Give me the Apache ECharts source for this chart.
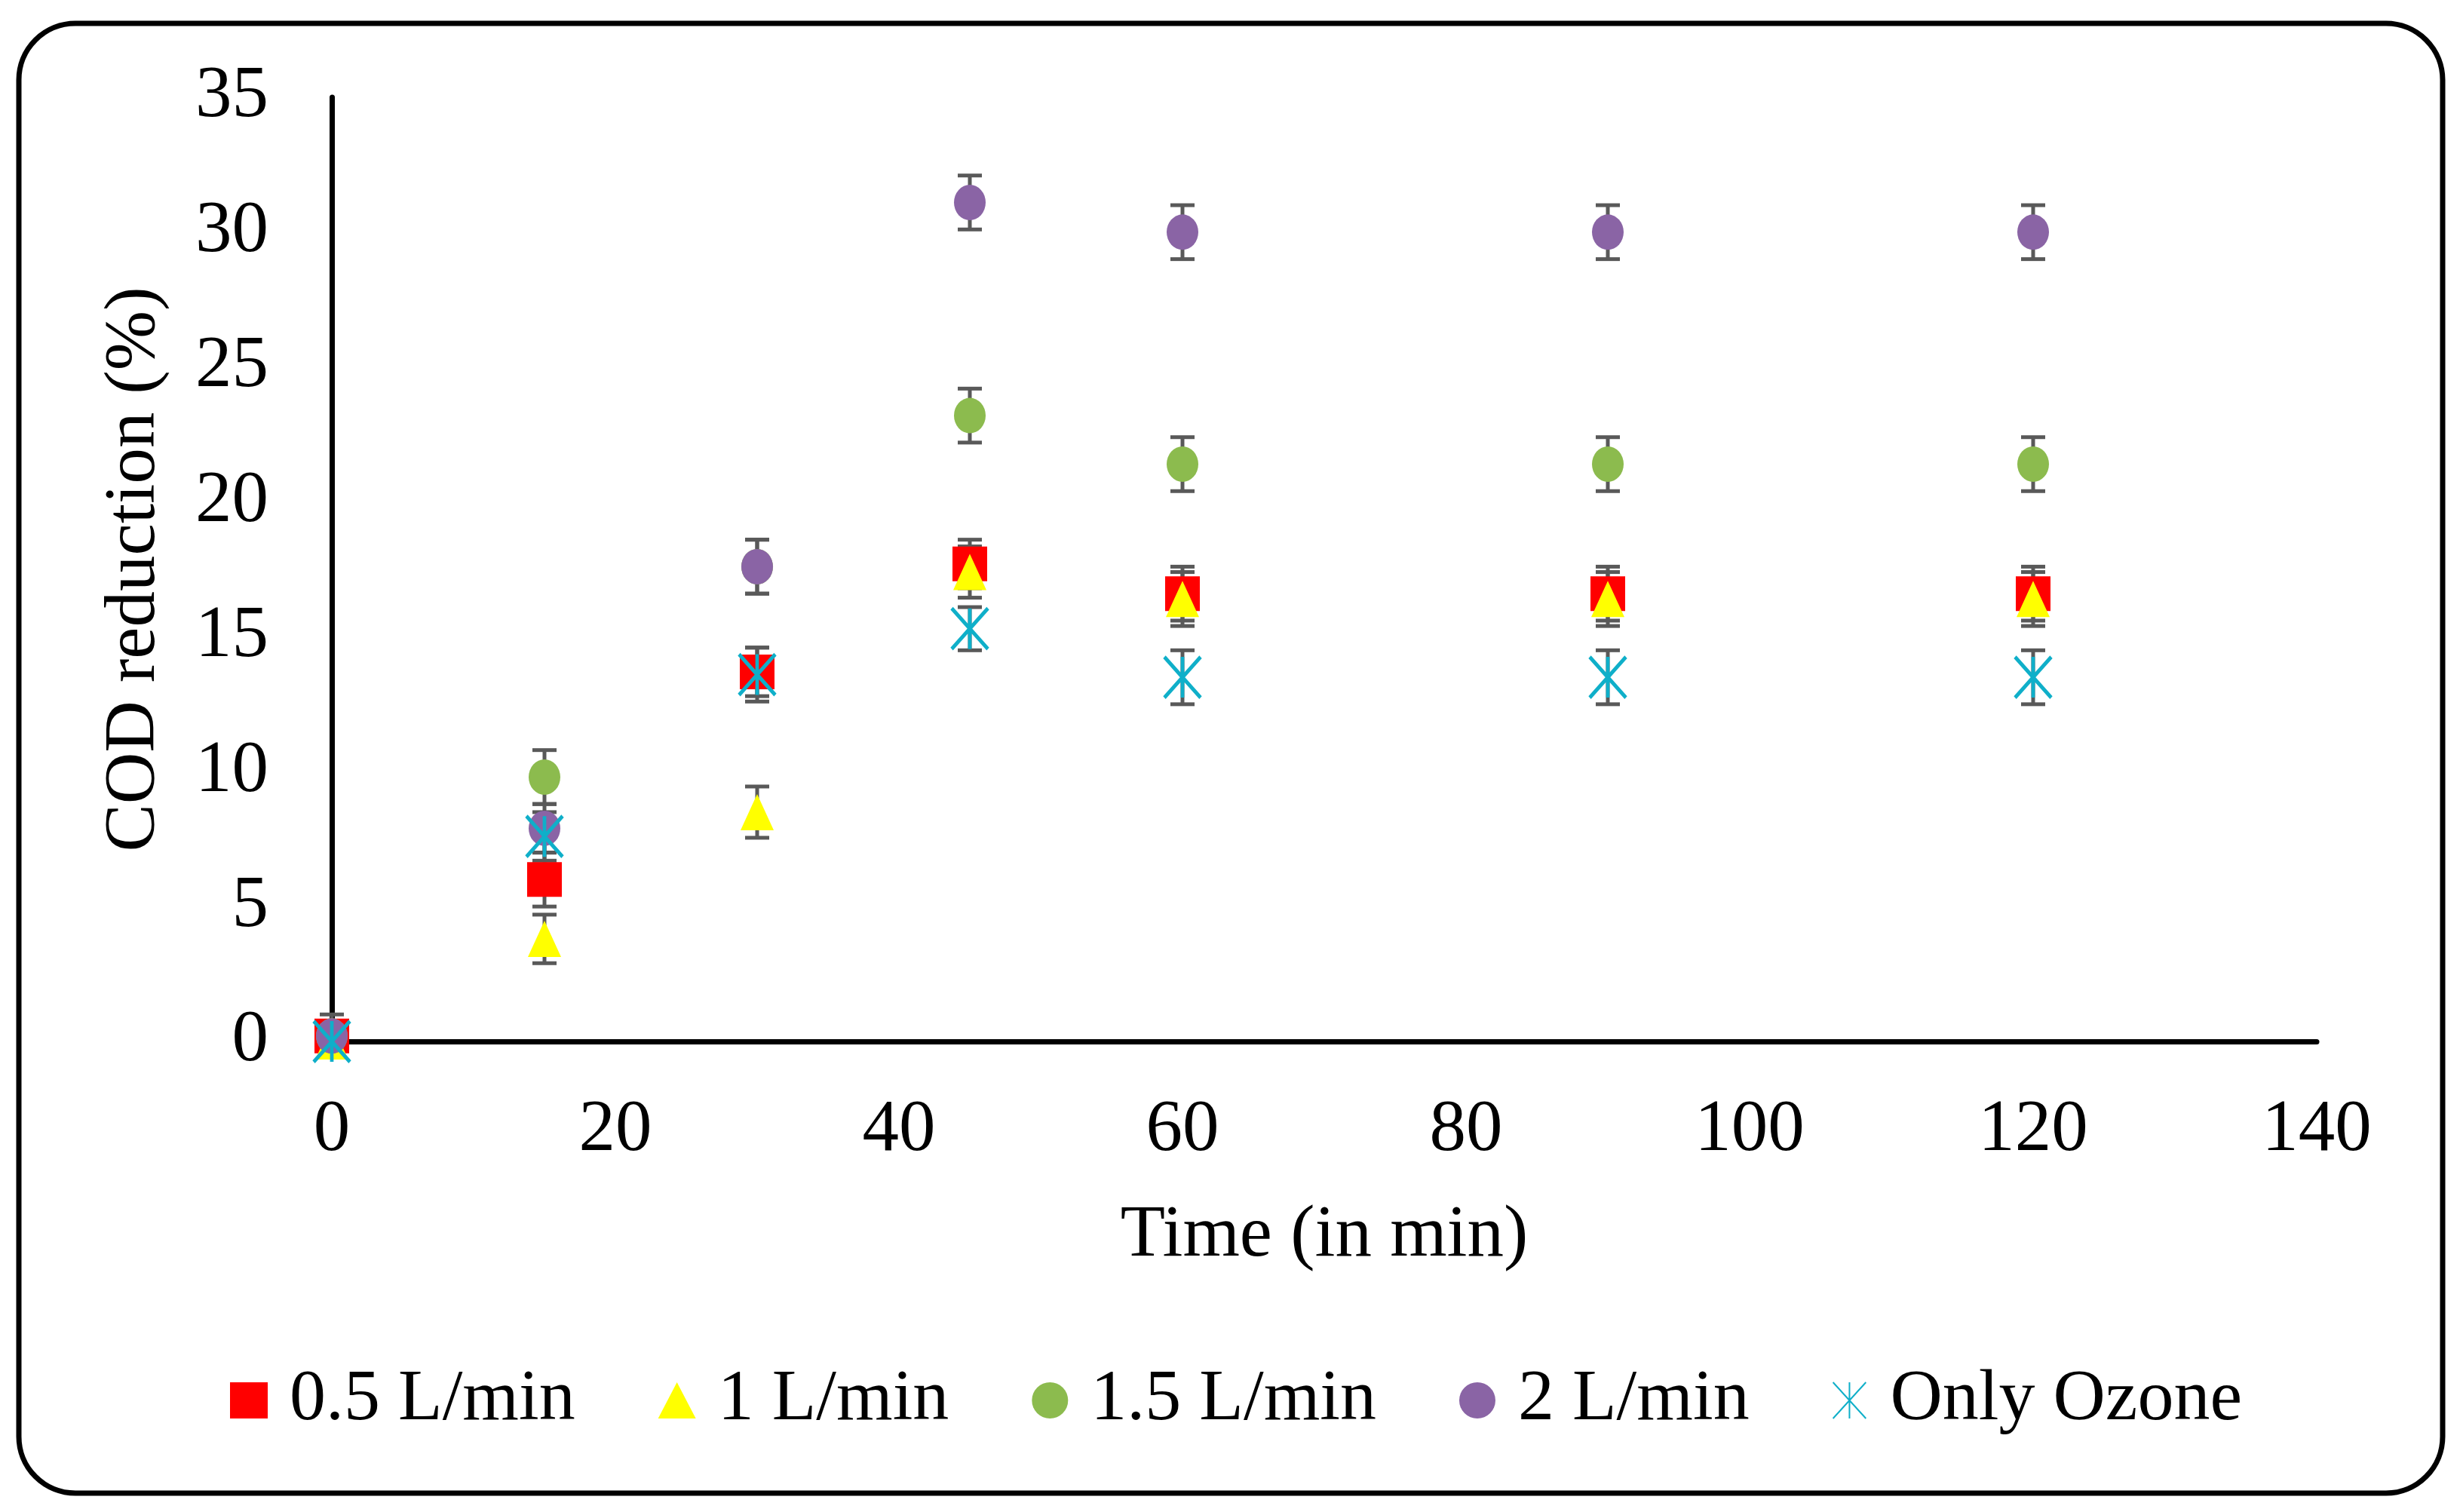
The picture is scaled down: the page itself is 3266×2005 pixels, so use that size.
<!DOCTYPE html>
<html>
<head>
<meta charset="utf-8">
<script src="https://cdn.jsdelivr.net/npm/echarts@6/dist/echarts.min.js"></script>
<style>
html, body { margin: 0; padding: 0; background: #fff; }
#grafico { width: 3266px; height: 2005px; }
</style>
</head>
<body>
<div id="grafico"></div>
<script>
// Datos
const tiempos = [0, 15, 30, 45, 60, 90, 120];
const nombres = ['0.5 L/min', '1 L/min', '1.5 L/min', '2 L/min', 'Only Ozone'];

const cod05 = [0.2, 6.0, 13.7, 17.7, 16.6, 16.6, 16.6];
const cod1 = [0.0, 3.8, 8.5, 17.4, 16.4, 16.4, 16.4];
const cod15 = [0.2, 9.8, 17.6, 23.2, 21.4, 21.4, 21.4];
const cod2 = [0.2, 7.9, 17.6, 31.1, 30.0, 30.0, 30.0];
const codOzono = [0.0, 7.6, 13.6, 15.3, 13.5, 13.5, 13.5];

const err05 = [0.8, 1.0, 0.9, 0.9, 1.0, 1.0, 1.0];
const err1 = [0.5, 0.9, 0.95, 0.95, 1.0, 1.0, 1.0];
const err15 = [0.5, 1.0, 1.0, 1.0, 1.0, 1.0, 1.0];
const err2 = [0.5, 0.9, 1.0, 1.0, 1.0, 1.0, 1.0];
const errOzono = [0.5, 0.9, 1.0, 0.8, 1.0, 1.0, 1.0];

const ticksX = [0, 20, 40, 60, 80, 100, 120, 140];
const ticksY = [0, 5, 10, 15, 20, 25, 30, 35];

const fuente = 'Liberation Serif';
const valores = [cod05, cod1, cod15, cod2, codOzono];
const errores = [err05, err1, err15, err2, errOzono];
const colores = ['#FF0000', '#FFFF00', '#8CBB4E', '#8A64A5', '#0FAFC9'];
const simbolos = ['rect', 'triangle', 'circle', 'circle', 'path://M0,0L10,11M10,0L0,11M5,0L5,11'];
const tamanos = [[46, 46], [44, 48], [42, 47], [42, 47], [48, 54]];

// barras de error: [x, abajo, arriba]
let barras = [];
valores.forEach((serie, s) => {
    serie.forEach((v, i) => {
        barras.push([tiempos[i], v - errores[s][i], v + errores[s][i]]);
    });
});

function dibujarBarra(params, api) {
    const x = api.value(0);
    const arriba = api.coord([x, api.value(2)]);
    const abajo = api.coord([x, api.value(1)]);
    const media = 16;
    const estilo = { stroke: '#595959', lineWidth: 5 };
    return {
        type: 'group',
        children: [
            { type: 'line', shape: { x1: arriba[0], y1: arriba[1], x2: abajo[0], y2: abajo[1] }, style: estilo },
            { type: 'line', shape: { x1: arriba[0] - media, y1: arriba[1], x2: arriba[0] + media, y2: arriba[1] }, style: estilo },
            { type: 'line', shape: { x1: abajo[0] - media, y1: abajo[1], x2: abajo[0] + media, y2: abajo[1] }, style: estilo }
        ]
    };
}

let series = [{
    type: 'custom',
    name: 'error',
    renderItem: dibujarBarra,
    data: barras,
    encode: { x: 0, y: [1, 2] },
    z: 1,
    silent: true
}];

nombres.forEach((nombre, s) => {
    series.push({
        type: 'scatter',
        name: nombre,
        data: tiempos.map((t, i) => [t, valores[s][i]]),
        symbol: simbolos[s],
        symbolSize: tamanos[s],
        itemStyle: s === 4
            ? { color: colores[s], borderColor: colores[s], borderWidth: 5, opacity: 1 }
            : { color: colores[s], opacity: 1 },
        z: 2 + s
    });
});

let grafico = echarts.init(document.getElementById('grafico'));
grafico.setOption({
    animation: false,
    backgroundColor: '#fff',
    textStyle: { fontFamily: fuente },
    graphic: [{
        type: 'rect',
        shape: { x: 25, y: 31, width: 3214, height: 1949, r: 75 },
        style: { fill: 'none', stroke: '#000', lineWidth: 7 },
        z: 0
    }],
    grid: { left: 440, right: 194, top: 129, bottom: 624 },
    legend: {
        data: nombres,
        left: 300,
        top: 1804,
        itemWidth: 50,
        itemHeight: 48,
        itemGap: 110,
        textStyle: { fontFamily: fuente, fontSize: 96, color: '#000', padding: [0, 0, 0, 24], lineHeight: 92 }
    },
    xAxis: {
        type: 'value',
        min: ticksX[0],
        max: ticksX[ticksX.length - 1],
        interval: 20,
        name: 'Time (in min)',
        nameLocation: 'middle',
        nameGap: 210,
        nameTextStyle: { fontFamily: fuente, fontSize: 97, color: '#000' },
        axisLine: { lineStyle: { color: '#000', width: 7 } },
        axisTick: { show: false },
        splitLine: { show: false },
        axisLabel: { fontFamily: fuente, fontSize: 97, color: '#000', margin: 70 }
    },
    yAxis: {
        type: 'value',
        min: ticksY[0],
        max: ticksY[ticksY.length - 1],
        interval: 5,
        name: 'COD reduction (%)',
        nameLocation: 'middle',
        nameGap: 213,
        nameTextStyle: { fontFamily: fuente, fontSize: 95, color: '#000' },
        axisLine: { show: true, lineStyle: { color: '#000', width: 7 } },
        axisTick: { show: false },
        splitLine: { show: false },
        axisLabel: { fontFamily: fuente, fontSize: 97, color: '#000', margin: 84 }
    },
    series: series
});
</script>
</body>
</html>
